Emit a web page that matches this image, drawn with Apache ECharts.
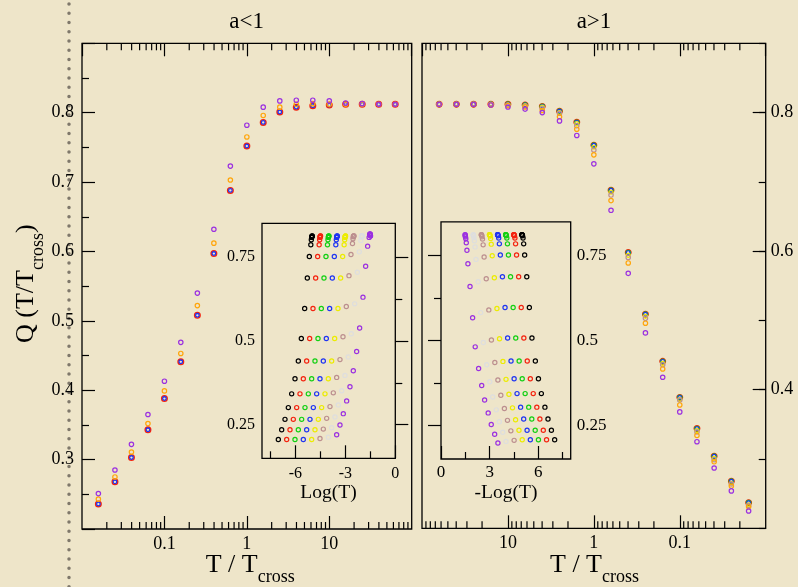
<!DOCTYPE html>
<html><head><meta charset="utf-8">
<script src="https://cdn.jsdelivr.net/npm/echarts@6/dist/echarts.min.js"></script>
<style>html,body{margin:0;padding:0;background:#EEE5C9;}#c{width:798px;height:587px;}</style>
</head><body><div id="c"></div>
<script>
// ---------------- data ----------------
// T / T_cross sample points (both main panels)
const tOverTcross = [0.0158, 0.0251, 0.0398, 0.0631, 0.1, 0.158, 0.251, 0.398, 0.631, 1, 1.58, 2.51, 3.98, 6.31, 10, 15.8, 25.1, 39.8, 63.1];

// left panel (a<1)
const qLeftRedBlue = [0.236, 0.268, 0.303, 0.343, 0.388, 0.441, 0.508, 0.597, 0.688, 0.752, 0.786, 0.801, 0.808, 0.810, 0.811, 0.812, 0.812, 0.812, 0.812];
const qLeftOrange  = [0.243, 0.275, 0.311, 0.352, 0.399, 0.453, 0.522, 0.612, 0.703, 0.765, 0.796, 0.808, 0.812, 0.813, 0.812, 0.812, 0.812, 0.812, 0.812];
const qLeftPurple  = [0.251, 0.285, 0.322, 0.365, 0.413, 0.469, 0.540, 0.632, 0.723, 0.782, 0.808, 0.817, 0.818, 0.818, 0.817, 0.814, 0.813, 0.812, 0.812];

// right panel (a>1)
const qRightTop    = [0.237, 0.268, 0.304, 0.344, 0.389, 0.441, 0.509, 0.598, 0.688, 0.753, 0.786, 0.802, 0.809, 0.811, 0.812, 0.812, 0.812, 0.812, 0.812];
const qRightYellow = [0.234, 0.265, 0.301, 0.341, 0.386, 0.438, 0.506, 0.594, 0.685, 0.750, 0.784, 0.800, 0.808, 0.810, 0.811, 0.812, 0.812, 0.812, 0.812];
const qRightTan    = [0.233, 0.264, 0.299, 0.339, 0.385, 0.436, 0.503, 0.591, 0.681, 0.746, 0.781, 0.799, 0.806, 0.809, 0.811, 0.812, 0.812, 0.812, 0.812];
const qRightOrange = [0.231, 0.261, 0.296, 0.334, 0.378, 0.430, 0.496, 0.583, 0.673, 0.739, 0.776, 0.794, 0.803, 0.808, 0.810, 0.811, 0.812, 0.812, 0.812];
const qRightPurple = [0.225, 0.254, 0.287, 0.325, 0.368, 0.418, 0.482, 0.568, 0.659, 0.726, 0.767, 0.788, 0.800, 0.805, 0.808, 0.811, 0.812, 0.812, 0.812];

// left inset: Q vs Log(T); first series x, per-series shift, Q rows
const insetLogTBlack = [-7.02, -6.82, -6.62, -6.42, -6.22, -6.02, -5.82, -5.64, -5.44, -5.28, -5.16, -5.07, -5.04, -5.02, -5.01, -5.00, -4.99, -4.99];
const insetLShift = [0, 0.5, 1.0, 1.5, 2.0, 2.5, 3.0, 3.5];
const insetLQBase   = [0.206, 0.235, 0.266, 0.301, 0.342, 0.387, 0.440, 0.507, 0.596, 0.687, 0.751, 0.786, 0.801, 0.808, 0.810, 0.811, 0.812, 0.812];
const insetLQTan    = [0.209, 0.237, 0.269, 0.304, 0.345, 0.391, 0.444, 0.512, 0.602, 0.694, 0.757, 0.790, 0.804, 0.810, 0.811, 0.812, 0.812, 0.812];
const insetLQGray   = [0.213, 0.241, 0.273, 0.309, 0.351, 0.397, 0.452, 0.521, 0.610, 0.704, 0.765, 0.799, 0.809, 0.812, 0.813, 0.813, 0.812, 0.812];
const insetLQViolet = [0.220, 0.249, 0.283, 0.321, 0.363, 0.411, 0.468, 0.538, 0.630, 0.722, 0.782, 0.808, 0.817, 0.818, 0.818, 0.817, 0.813, 0.812];

// right inset: Q vs -Log(T)
const insetMinusLogTBlack = [7.01, 6.81, 6.60, 6.41, 6.19, 6.01, 5.82, 5.61, 5.45, 5.29, 5.16, 5.10, 5.06, 5.03, 5.01, 5.00, 4.99, 4.99];
const insetRShift = [0, -0.5, -1.0, -1.5, -2.0, -2.5, -3.0, -3.5];
const insetRQBase   = [0.207, 0.235, 0.268, 0.303, 0.343, 0.387, 0.439, 0.507, 0.597, 0.688, 0.752, 0.785, 0.802, 0.809, 0.811, 0.812, 0.812, 0.812];
const insetRQYellow = [0.207, 0.235, 0.266, 0.301, 0.341, 0.385, 0.438, 0.505, 0.594, 0.685, 0.750, 0.784, 0.801, 0.808, 0.811, 0.812, 0.812, 0.812];
const insetRQTan    = [0.205, 0.233, 0.264, 0.299, 0.338, 0.383, 0.435, 0.501, 0.590, 0.682, 0.746, 0.782, 0.799, 0.806, 0.810, 0.811, 0.812, 0.812];
const insetRQGray   = [0.202, 0.229, 0.260, 0.295, 0.333, 0.378, 0.428, 0.494, 0.582, 0.673, 0.739, 0.776, 0.794, 0.803, 0.808, 0.810, 0.811, 0.812];
const insetRQViolet = [0.197, 0.223, 0.252, 0.286, 0.324, 0.367, 0.417, 0.481, 0.567, 0.659, 0.726, 0.766, 0.788, 0.800, 0.805, 0.808, 0.811, 0.812];

// tick values
const logMinorTicks = [0.02,0.03,0.04,0.05,0.06,0.07,0.08,0.09, 0.2,0.3,0.4,0.5,0.6,0.7,0.8,0.9, 2,3,4,5,6,7,8,9, 20,30,40,50,60,70,80,90];
const insetLXMajor = [-6, -3, 0];
const insetLXMinor = [-7.5, -4.5, -1.5];
const insetRXMajor = [0, 3, 6];
const insetRXMinor = [1.5, 4.5, 7.5];
const insetYMajor = [0.25, 0.5, 0.75];
const insetYMinor = [0.375, 0.625];

// ---------------- styling ----------------
const FONT = "'Liberation Serif', 'Times New Roman', serif";
const COL = {black:'#000000', red:'#f4230f', green:'#12d012', blue:'#1f35f2', yellow:'#ecec00',
             tan:'#bc8f8f', gray:'#dedede', violet:'#9b30e0', orange:'#ffa50a'};

function measure(t, size) {
  const ctx = document.createElement('canvas').getContext('2d');
  ctx.font = size + 'px ' + FONT;
  return ctx.measureText(t).width;
}
function tick(len, extra) {
  return Object.assign({show:true, inside:true, length:len, lineStyle:{color:'#000', width:1.2}}, extra || {});
}
function lbl(size, margin, extra) {
  return Object.assign({show:true, color:'#000', fontFamily:FONT, fontSize:size, margin:margin}, extra || {});
}
const noLine = {show:false}, noSplit = {show:false};

function pts(xs, ys) { return xs.map((x, i) => [x, ys[i]]); }
function ring(data, color, size, xi, yi, bw) {
  return {type:'scatter', xAxisIndex:xi, yAxisIndex:yi, data:data, symbol:'circle', symbolSize:size,
    silent:true, itemStyle:{color:'rgba(0,0,0,0)', borderColor:color, borderWidth:bw || 1.2, opacity:1},
    emphasis:{disabled:true}, z:2};
}
function minorTickSeries(xi, yi) {
  return {type:'custom', xAxisIndex:xi, yAxisIndex:yi, silent:true, z:3, clip:false,
    data: logMinorTicks.map(v => [v, 0.5]),
    renderItem: function (params, api) {
      const p = api.coord([api.value(0), api.value(1)]);
      const cs = params.coordSys;
      const top = cs.y, bot = cs.y + cs.height;
      const st = {stroke:'#000', lineWidth:1.2};
      return {type:'group', children:[
        {type:'line', shape:{x1:p[0], y1:bot, x2:p[0], y2:bot - 7}, style:st},
        {type:'line', shape:{x1:p[0], y1:top, x2:p[0], y2:top + 7}, style:st}
      ]};
    }};
}

const gridBase = {show:true, borderColor:'#000', borderWidth:1.3, backgroundColor:'rgba(0,0,0,0)', containLabel:false, outerBoundsMode:'none'};

const logAxis = (gi, pos, inverse, labels) => ({
  type:'log', logBase:10, gridIndex:gi, min:0.01, max:100, position:pos, inverse:inverse,
  axisLine:noLine, splitLine:noSplit, axisTick:tick(13),
  axisLabel: labels ? lbl(18, 6, {showMinLabel:false, showMaxLabel:false}) : {show:false}
});

const xAxis = [
  logAxis(0, 'bottom', false, true),
  logAxis(0, 'top', false, false),
  logAxis(1, 'bottom', true, true),
  logAxis(1, 'top', true, false),
  {type:'value', gridIndex:2, min:-8, max:0, position:'bottom', axisLine:noLine, splitLine:noSplit,
   axisTick:tick(13, {customValues:insetLXMajor}), axisLabel:lbl(16, 7, {customValues:insetLXMajor})},
  {type:'value', gridIndex:2, min:-8, max:0, position:'bottom', axisLine:noLine, splitLine:noSplit,
   axisTick:tick(7, {customValues:insetLXMinor}), axisLabel:{show:false}},
  {type:'value', gridIndex:3, min:0, max:8, position:'bottom', axisLine:noLine, splitLine:noSplit,
   axisTick:tick(13, {customValues:insetRXMajor}), axisLabel:lbl(17, 5, {customValues:insetRXMajor})},
  {type:'value', gridIndex:3, min:0, max:8, position:'bottom', axisLine:noLine, splitLine:noSplit,
   axisTick:tick(7, {customValues:insetRXMinor}), axisLabel:{show:false}}
];

const yAxis = [
  {type:'value', gridIndex:0, min:0.2, max:0.9, interval:0.1, position:'left', axisLine:noLine, splitLine:noSplit,
   axisTick:tick(13), minorTick:{show:true, splitNumber:2, length:7, lineStyle:{color:'#000', width:1.2}},
   minorSplitLine:{show:false}, axisLabel:lbl(18, 8, {showMinLabel:false, showMaxLabel:false})},
  {type:'value', gridIndex:1, min:0.2, max:0.9, interval:0.2, position:'right', axisLine:noLine, splitLine:noSplit,
   axisTick:tick(13), axisLabel:lbl(18, 5, {showMinLabel:false, showMaxLabel:false})},
  {type:'value', gridIndex:1, min:0.2, max:0.9, interval:0.1, position:'right', axisLine:noLine, splitLine:noSplit,
   axisTick:tick(7), axisLabel:{show:false}},
  {type:'value', gridIndex:2, min:0.15, max:0.85, position:'left', axisLine:noLine, splitLine:noSplit,
   axisTick:tick(13, {customValues:insetYMajor}), axisLabel:lbl(16, 7, {customValues:insetYMajor})},
  {type:'value', gridIndex:2, min:0.15, max:0.85, position:'left', axisLine:noLine, splitLine:noSplit,
   axisTick:tick(7, {customValues:insetYMinor}), axisLabel:{show:false}},
  {type:'value', gridIndex:3, min:0.15, max:0.85, position:'right', axisLine:noLine, splitLine:noSplit,
   axisTick:tick(13, {customValues:insetYMajor}), axisLabel:lbl(17, 6, {customValues:insetYMajor})},
  {type:'value', gridIndex:3, min:0.15, max:0.85, position:'right', axisLine:noLine, splitLine:noSplit,
   axisTick:tick(7, {customValues:insetYMinor}), axisLabel:{show:false}}
];

const series = [
  minorTickSeries(0, 0),
  minorTickSeries(2, 1),
  // left main
  ring(pts(tOverTcross, qLeftRedBlue), COL.red, 5.6, 0, 0, 1.4),
  ring(pts(tOverTcross, qLeftRedBlue), COL.blue, 3.6, 0, 0, 1.3),
  ring(pts(tOverTcross, qLeftOrange), COL.orange, 4.4, 0, 0),
  ring(pts(tOverTcross, qLeftPurple), COL.violet, 4.4, 0, 0),
  // right main
  ring(pts(tOverTcross, qRightTop), COL.red, 5.6, 2, 1, 1.3),
  ring(pts(tOverTcross, qRightTop), COL.green, 4.6, 2, 1, 1.2),
  ring(pts(tOverTcross, qRightTop), COL.blue, 3.6, 2, 1, 1.2),
  ring(pts(tOverTcross, qRightYellow), COL.yellow, 4.0, 2, 1),
  ring(pts(tOverTcross, qRightTan), COL.tan, 4.4, 2, 1),
  ring(pts(tOverTcross, qRightOrange), COL.orange, 4.4, 2, 1),
  ring(pts(tOverTcross, qRightPurple), COL.violet, 4.4, 2, 1)
];

const insetColors = [COL.black, COL.red, COL.green, COL.blue, COL.yellow, COL.tan, COL.gray, COL.violet];
const insetLQ = [insetLQBase, insetLQBase, insetLQBase, insetLQBase, insetLQBase, insetLQTan, insetLQGray, insetLQViolet];
const insetRQ = [insetRQBase, insetRQBase, insetRQBase, insetRQBase, insetRQYellow, insetRQTan, insetRQGray, insetRQViolet];
insetColors.forEach((c, s) => {
  series.push(ring(pts(insetLogTBlack.map(x => x + insetLShift[s]), insetLQ[s]), c, 4.2, 4, 3));
  series.push(ring(pts(insetMinusLogTBlack.map(x => x + insetRShift[s]), insetRQ[s]), c, 4.2, 6, 5));
});

// ---------------- texts ----------------
function txt(t, x, y, size, align, extra) {
  return Object.assign({type:'text', x:x, y:y, silent:true, z:10,
    style:{text:t, font:size + 'px ' + FONT, fill:'#000', align:align || 'left', verticalAlign:'middle',
           textAlign:align || 'left', textVerticalAlign:'middle'}}, extra || {});
}
const wT = measure('T / T', 26);
const wQ = measure('Q (T/T', 26);
const wC = measure('cross', 18);

const graphic = [
  {type:'line', silent:true, z:0, shape:{x1:69, y1:4, x2:69, y2:587},
   style:{stroke:'#7f786b', lineWidth:3.5, lineDash:[0, 9.25], lineCap:'round'}},
  txt('a<1', 246.7, 21.5, 23, 'center'),
  txt('a>1', 594, 21.5, 23, 'center'),
  txt('T / T', 205.7, 565.5, 26), txt('cross', 205.7 + wT, 577.6, 18),
  txt('T / T', 550, 565.5, 26), txt('cross', 550 + wT, 577.6, 18),
  {type:'group', x:25.7, y:343, rotation:Math.PI / 2, children:[
    txt('Q (T/T', 0, 0, 26), txt('cross', wQ, 12.1, 18), txt(')', wQ + wC, 0, 26)
  ]},
  txt('Log(T)', 328.5, 492.5, 19.5, 'center'),
  txt('-Log(T)', 506, 492.5, 19.5, 'center')
];

const chart = echarts.init(document.getElementById('c'), null, {renderer:'canvas'});
chart.setOption({
  backgroundColor:'#EEE5C9',
  animation:false,
  tooltip:{show:false},
  grid:[
    Object.assign({left:82, top:43.3, width:329.7, height:485.7}, gridBase),
    Object.assign({left:422, top:43.3, width:343.7, height:485}, gridBase),
    Object.assign({left:262, top:223.3, width:133.3, height:235}, gridBase),
    Object.assign({left:441, top:221.8, width:129.7, height:237.2}, gridBase)
  ],
  xAxis: xAxis,
  yAxis: yAxis,
  series: series,
  graphic: graphic
});
</script></body></html>
